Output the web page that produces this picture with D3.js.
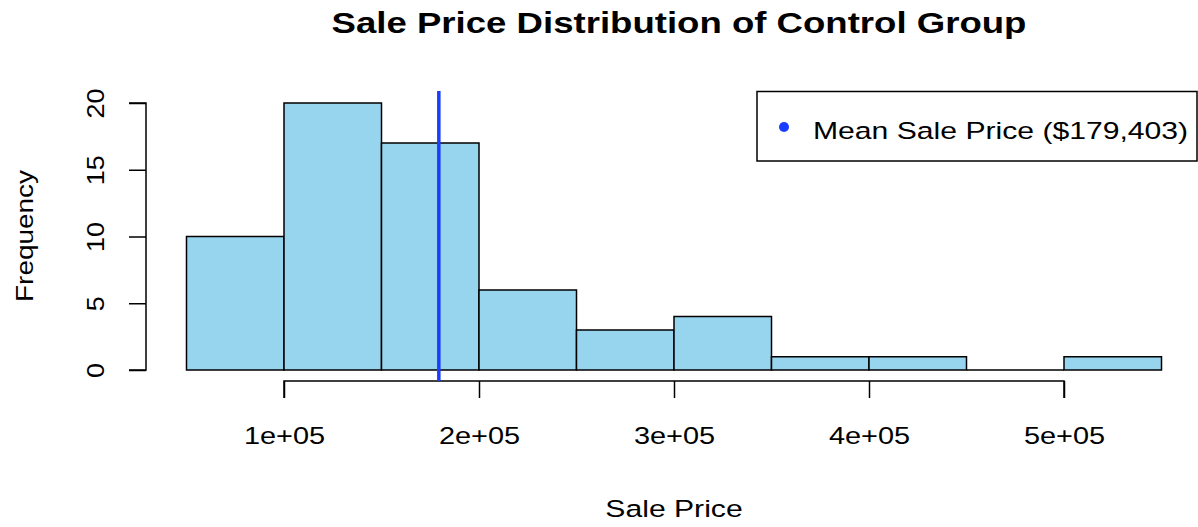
<!DOCTYPE html>
<html><head><meta charset="utf-8">
<script src="https://cdn.jsdelivr.net/npm/d3@7"></script>
<style>body{margin:0;background:#fff}svg{display:block;font-family:"Liberation Sans",Arial,sans-serif}</style>
</head><body>
<svg id="c" width="1198" height="527"></svg>
<script>
const binStarts = [50000,100000,150000,200000,250000,300000,350000,400000,450000,500000];
const binWidth = 50000;
const counts = [10,20,17,6,3,4,1,1,0,1];
const xTicks = [100000,200000,300000,400000,500000];
const xTickLabels = ["1e+05","2e+05","3e+05","4e+05","5e+05"];
const yTicks = [0,5,10,15,20];
const meanPrice = 179403;
const legendLabel = "Mean Sale Price ($179,403)";

const FF = "Liberation Sans, Arial, sans-serif";
const svg = d3.select("#c");
const x = d3.scaleLinear().domain([50000,550000]).range([186.5,1161.5]);
const y = d3.scaleLinear().domain([0,20]).range([370,103]);

function htext(tx,ty,size,anchor,txt,bold,sx){
  return svg.append("text").attr("transform",`translate(${tx},${ty}) scale(${sx||1.23},1)`)
    .attr("text-anchor",anchor).attr("font-size",size).attr("font-weight",bold?"bold":"normal")
    .attr("font-family",FF).text(txt);
}

htext(679,33,29.5,"middle","Sale Price Distribution of Control Group",true,1.24);

svg.append("g").selectAll("path").data(binStarts).join("path")
  .attr("d",(d,i)=>{
    const x0=x(d), x1=x(d+binWidth), y0=y(0), y1=y(counts[i]);
    return `M${x0},${y0}V${y1}H${x1}V${y0}Z`;
  })
  .attr("fill","#97d5ef").attr("stroke","#000").attr("stroke-width",1.5);

// x axis
const xa = svg.append("g").attr("transform","translate(0,381)")
  .call(d3.axisBottom(x).tickValues(xTicks).tickFormat((d,i)=>xTickLabels[i]).tickSize(17));
xa.select(".domain").attr("d",`M${x(xTicks[0])},17V0H${x(xTicks[xTicks.length-1])}V17`).attr("stroke-width",1.5);
xa.selectAll(".tick line").attr("stroke-width",1.5);
xa.selectAll(".tick text").attr("y",0).attr("dy",0).attr("transform","translate(0,63) scale(1.18,1)")
  .attr("font-size",24.5).attr("fill","#000").attr("font-family",FF);

// y axis
const ya = svg.append("g").attr("transform","translate(146,0)")
  .call(d3.axisLeft(y).tickValues(yTicks).tickSize(17));
ya.select(".domain").attr("d",`M-17,${y(0)}H0V${y(20)}H-17`).attr("stroke-width",1.5);
ya.selectAll(".tick line").attr("stroke-width",1.5);
ya.selectAll(".tick text").attr("font-size",24.5).attr("fill","#000").attr("font-family",FF)
  .attr("text-anchor","middle").attr("dy",0).attr("x",0).attr("y",0)
  .attr("transform","translate(-42,0) rotate(-90) scale(1.1,1)");

htext(674,517,24.5,"middle","Sale Price",false,1.23);
svg.append("text").attr("transform","translate(33,236) rotate(-90) scale(1.14,1)").attr("text-anchor","middle")
  .attr("font-size",24.5).attr("font-family",FF).text("Frequency");

// mean line
svg.append("line").attr("x1",x(meanPrice)).attr("x2",x(meanPrice)).attr("y1",91).attr("y2",381)
  .attr("stroke","#1a3cff").attr("stroke-width",3.5);

// legend
svg.append("rect").attr("x",757).attr("y",91.5).attr("width",440).attr("height",69.5)
  .attr("fill","#fff").attr("stroke","#000").attr("stroke-width",1.5);
svg.append("circle").attr("cx",784).attr("cy",127).attr("r",5).attr("fill","#1a3cff");
htext(813,139,24.5,"start",legendLabel,false,1.23);
</script>
</body></html>
